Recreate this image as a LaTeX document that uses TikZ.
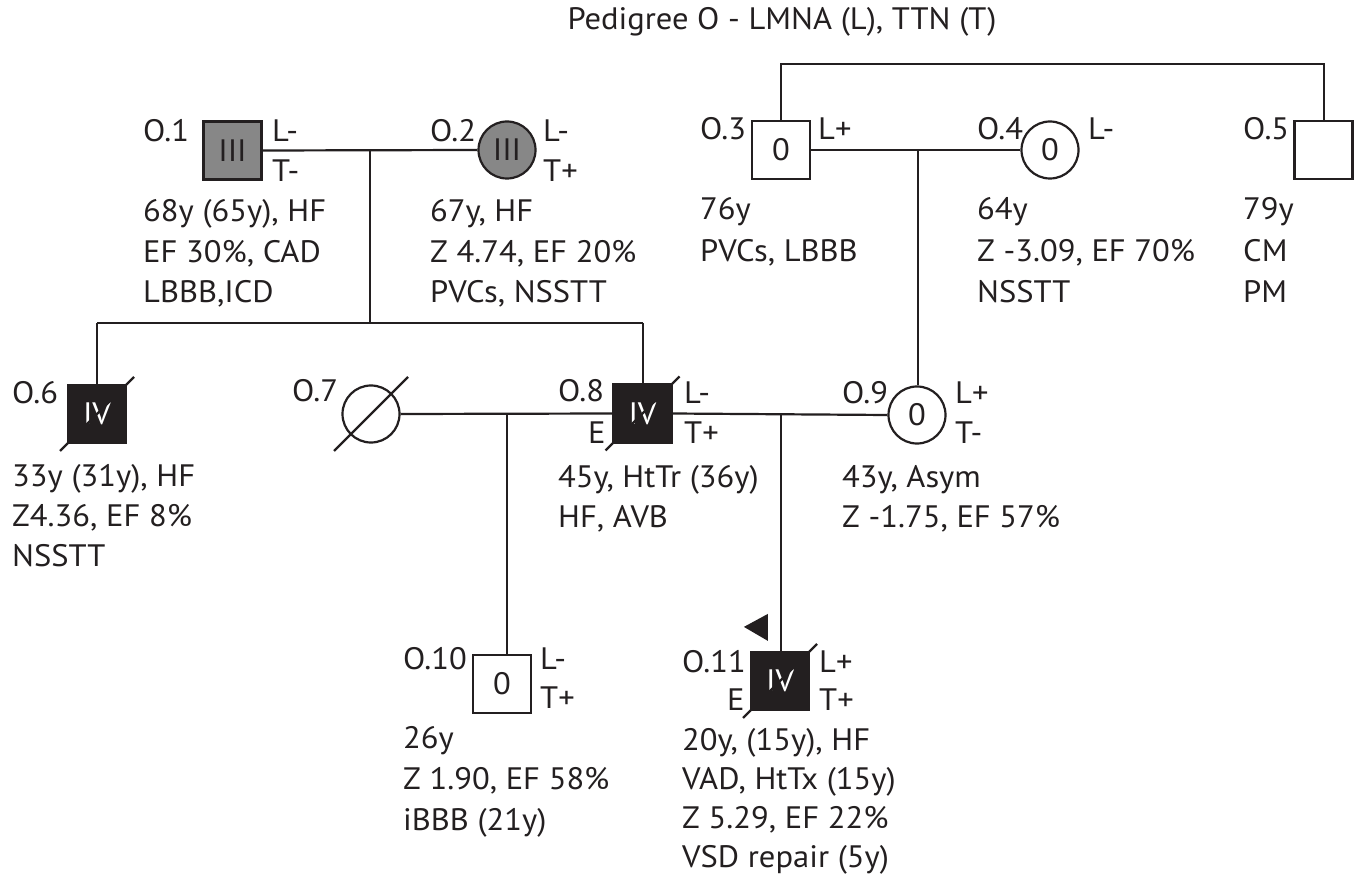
\documentclass[tikz,border=0pt]{standalone}
\usepackage{fontspec}
\setmainfont[FakeStretch=1.05]{PT Sans}
\definecolor{ink}{HTML}{231F20}
\definecolor{aff}{HTML}{878787}
\tikzset{
  every picture/.style={x=1pt,y=-1pt},
  lab/.style={anchor=base west,inner sep=0pt,text=ink,font=\fontsize{31}{31}\selectfont},
  ttl/.style={anchor=base,inner sep=0pt,text=ink,font=\fontsize{31}{31}\selectfont},
  male/.style={draw=ink,rectangle,minimum size=58pt,inner sep=0pt,line width=2.2pt,font=\fontsize{31}{31}\selectfont,text=ink,fill=white},
  female/.style={draw=ink,circle,minimum size=57pt,inner sep=0pt,line width=2.2pt,font=\fontsize{31}{31}\selectfont,text=ink,fill=white},
  grayfill/.style={fill=aff},
  blackfill/.style={fill=ink,text=white},
  conn/.style={draw=ink,line width=2.2pt},
}
\begin{document}
\begin{tikzpicture}
\useasboundingbox (0,0) rectangle (1360,882);
\fill[white] (0,0) rectangle (1360,882);

% title
\node[ttl] (title) at (782,30) {Pedigree O - LMNA (L), TTN (T)};

% coordinates for connectors
\coordinate (m12) at (370,150);
\coordinate (s12) at (370,323);
\coordinate (m34) at (918,150);
\coordinate (top) at (781,64);
\coordinate (m78) at (507,413);
\coordinate (m89) at (781,413);

% connectors (drawn first so shapes overlay)
\draw[conn] (m12) -- (s12);
\draw[conn] (97,323) -- (643,323);
\draw[conn] (m34) -- (918,385);
\draw[conn] (781,121) -- (top) -- (1324,64) -- (1324,121);
\draw[conn] (m78) -- (507,655);
\draw[conn] (m89) -- (781,652);
\draw[conn] (97,323) -- (97,385);
\draw[conn] (643,323) -- (643,384);

% individuals
\node[male,grayfill] (o1) at (232.5,150.5) {III};
\node[female,grayfill] (o2) at (507,150) {III};
\node[male] (o3) at (781,150) {0};
\node[female] (o4) at (1050,150) {0};
\node[male] (o5) at (1323.5,150) {};
\node[male,blackfill] (o6) at (97,414) {IV};
\node[female] (o7) at (371,414) {};
\node[male,blackfill] (o8) at (642.5,413.5) {IV};
\node[female] (o9) at (917,415) {0};
\node[male] (o10) at (502,684) {0};
\node[male,blackfill] (o11) at (780,681) {IV};

% marriage lines
\draw[conn] (o1.east) -- (o2.west);
\draw[conn] (o3.east) -- (o4.west);
\draw[conn] (o7.east) -- (o8.west);
\draw[conn] (o8.east) -- (o9.west);

% deceased slashes
\foreach \n in {o6,o7,o8,o11}{
  \draw[ink,line width=2.2pt] ([shift={(-37,37)}]\n.center) -- ([shift={(37,-37)}]\n.center);
}

% proband arrow
\fill[ink] ([shift={(-6,-24)}]o11.north west) -- ([shift={(18,-37)}]o11.north west) -- ([shift={(18,-10)}]o11.north west) -- cycle;

% labels O.1
\node[lab] (l1) at (143,142) {O.1};
\node[lab] (l1L) at (272,142) {L-};
\node[lab] (l1T) at (272,182) {T-};
\node[lab] (l1a) at (143,222) {68y (65y), HF};
\node[lab] (l1b) at (143,263) {EF 30\%, CAD};
\node[lab] (l1c) at (143,303) {LBBB,ICD};
% O.2
\node[lab] (l2) at (430,142) {O.2};
\node[lab] (l2L) at (543,142) {L-};
\node[lab] (l2T) at (543,182) {T+};
\node[lab] (l2a) at (430,222) {67y, HF};
\node[lab] (l2b) at (430,263) {Z 4.74, EF 20\%};
\node[lab] (l2c) at (430,303) {PVCs, NSSTT};
% O.3
\node[lab] (l3) at (700,140) {O.3};
\node[lab] (l3L) at (818,140) {L+};
\node[lab] (l3a) at (700,220) {76y};
\node[lab] (l3b) at (700,262) {PVCs, LBBB};
% O.4
\node[lab] (l4) at (977,140) {O.4};
\node[lab] (l4L) at (1088,140) {L-};
\node[lab] (l4a) at (977,220) {64y};
\node[lab] (l4b) at (977,262) {Z -3.09, EF 70\%};
\node[lab] (l4c) at (977,303) {NSSTT};
% O.5
\node[lab] (l5) at (1243,140) {O.5};
\node[lab] (l5a) at (1243,220) {79y};
\node[lab] (l5b) at (1243,262) {CM};
\node[lab] (l5c) at (1243,303) {PM};
% O.6
\node[lab] (l6) at (12,403) {O.6};
\node[lab] (l6a) at (12,486) {33y (31y), HF};
\node[lab] (l6b) at (12,526) {Z4.36, EF 8\%};
\node[lab] (l6c) at (12,566) {NSSTT};
% O.7
\node[lab] (l7) at (292,402) {O.7};
% O.8
\node[lab] (l8) at (558,402) {O.8};
\node[lab] (l8E) at (588,443) {E};
\node[lab] (l8L) at (684,403) {L-};
\node[lab] (l8T) at (684,443) {T+};
\node[lab] (l8a) at (558,487) {45y, HtTr (36y)};
\node[lab] (l8b) at (558,527) {HF, AVB};
% O.9
\node[lab] (l9) at (842,403) {O.9};
\node[lab] (l9L) at (955,403) {L+};
\node[lab] (l9T) at (955,443) {T-};
\node[lab] (l9a) at (842,487) {43y, Asym};
\node[lab] (l9b) at (842,527) {Z -1.75, EF 57\%};
% O.10
\node[lab] (l10) at (403,669) {O.10};
\node[lab] (l10L) at (540,669) {L-};
\node[lab] (l10T) at (540,708) {T+};
\node[lab] (l10a) at (403,748) {26y};
\node[lab] (l10b) at (403,789) {Z 1.90, EF 58\%};
\node[lab] (l10c) at (403,830) {iBBB (21y)};
% O.11
\node[lab] (l11) at (682,672) {O.11};
\node[lab] (l11E) at (727,710) {E};
\node[lab] (l11L) at (819,672) {L+};
\node[lab] (l11T) at (819,710) {T+};
\node[lab] (l11a) at (682,750) {20y, (15y), HF};
\node[lab] (l11b) at (682,789) {VAD, HtTx (15y)};
\node[lab] (l11c) at (682,828) {Z 5.29, EF 22\%};
\node[lab] (l11d) at (682,867) {VSD repair (5y)};
\end{tikzpicture}
\end{document}
